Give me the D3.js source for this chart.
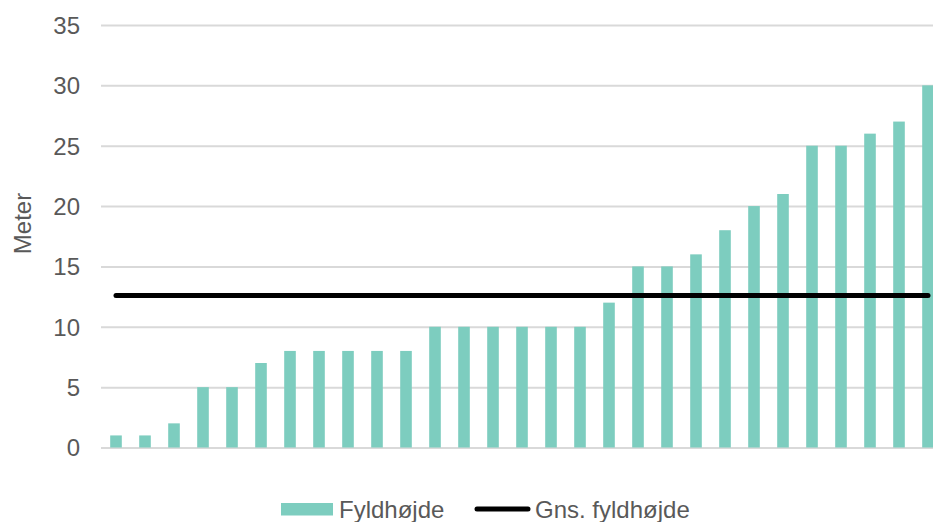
<!DOCTYPE html>
<html>
<head>
<meta charset="utf-8">
<script src="https://cdn.jsdelivr.net/npm/d3@7"></script>
<style>
  html, body { margin: 0; padding: 0; background: #fff; overflow: hidden; }
  svg { display: block; font-family: "Liberation Sans", Arial, sans-serif; }
</style>
</head>
<body>
<svg id="chart" width="933" height="522"></svg>
<script>
const categories = ["1","2","3","4","5","6","7","8","9","10","11","12","13","14","15","16","17","18","19","20","21","22","23","24","25","26","27","28","29"];
const fyldhojde = [1,1,2,5,5,7,8,8,8,8,8,10,10,10,10,10,10,12,15,15,16,18,20,21,25,25,26,27,30];
const gnsFyldhojde = 12.6;
const yTicks = [0,5,10,15,20,25,30,35];
const seriesNames = ["Fyldhøjde", "Gns. fyldhøjde"];

const svg = d3.select("#chart");
const barColor = "#7dcdbf";
const textColor = "#595959";
const gridColor = "#d9d9d9";

const x = d3.scaleBand().domain(categories).range([101.5, 942.5]).paddingInner(0.6).paddingOuter(0.3);
const y = d3.scaleLinear().domain([0, 35]).range([447.5, 25]);

// gridlines
const yAxis = d3.axisLeft(y).tickValues(yTicks).tickSize(-(942 - 101)).tickPadding(21);
const gAxis = svg.append("g").attr("transform", "translate(101,0)").call(yAxis);
gAxis.select(".domain").remove();
gAxis.selectAll(".tick line").attr("stroke", gridColor).attr("stroke-width", 2);
gAxis.selectAll(".tick text").attr("fill", textColor).style("font-size", "24px").attr("dy", "0.35em");

// bars
svg.append("g").selectAll("rect").data(fyldhojde).join("rect")
  .attr("x", (d, i) => x(categories[i]))
  .attr("width", x.bandwidth())
  .attr("y", d => y(d))
  .attr("height", d => y(0) - y(d))
  .attr("fill", barColor);

// average line
const first = categories[0], last = categories[categories.length - 1];
svg.append("line")
  .attr("x1", x(first) + x.bandwidth() / 2)
  .attr("x2", x(last) + x.bandwidth() / 2)
  .attr("y1", y(gnsFyldhojde)).attr("y2", y(gnsFyldhojde))
  .attr("stroke", "#000").attr("stroke-width", 5).attr("stroke-linecap", "round");

// y axis title
svg.append("text")
  .attr("transform", "translate(31,223.5) rotate(-90)")
  .attr("text-anchor", "middle")
  .attr("fill", textColor)
  .style("font-size", "24px")
  .text("Meter");

// legend
const lg = svg.append("g");
lg.append("rect").attr("x", 281).attr("y", 503).attr("width", 52).attr("height", 12.5).attr("fill", barColor);
lg.append("text").attr("x", 339).attr("y", 517.5).attr("fill", textColor).style("font-size", "24px").text(seriesNames[0]);
lg.append("line").attr("x1", 477).attr("x2", 528).attr("y1", 509).attr("y2", 509)
  .attr("stroke", "#000").attr("stroke-width", 5).attr("stroke-linecap", "round");
lg.append("text").attr("x", 535).attr("y", 517.5).attr("fill", textColor).style("font-size", "24px").text(seriesNames[1]);
</script>
</body>
</html>
